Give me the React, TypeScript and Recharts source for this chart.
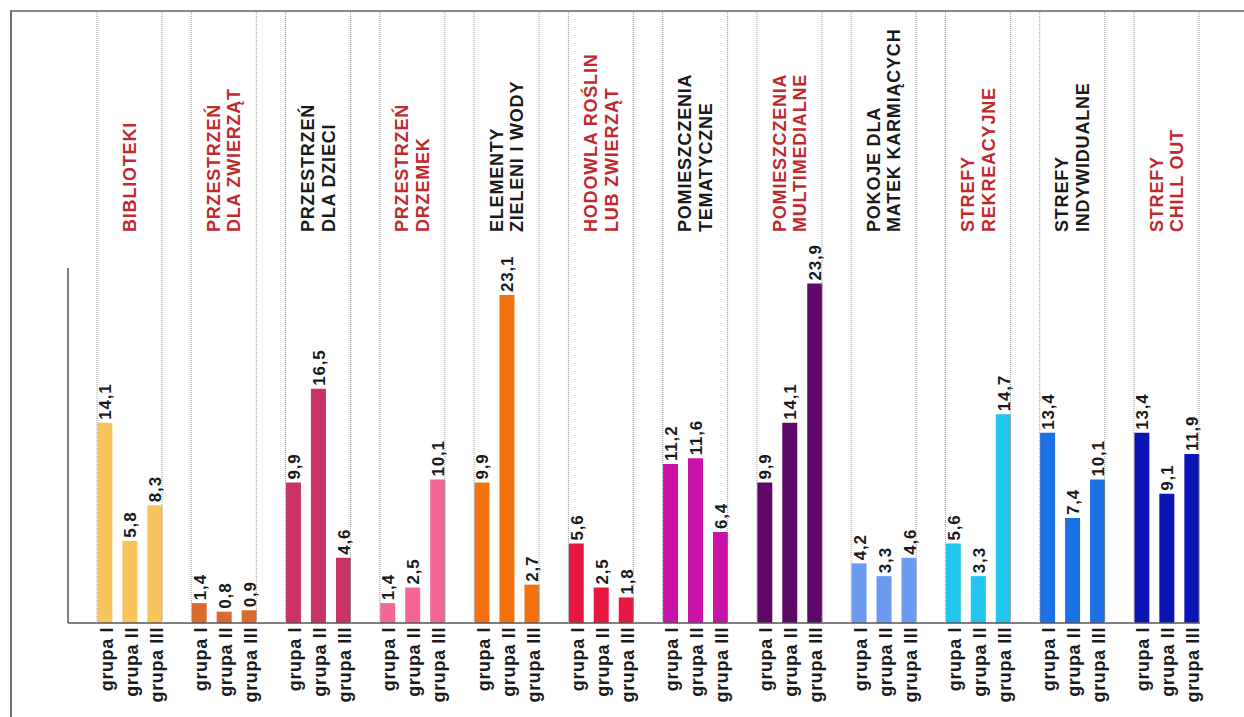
import React from "react";
import { Bar, BarChart, Cell, LabelList, XAxis, YAxis } from "recharts";

const categories = [
  "BIBLIOTEKI",
  "PRZESTRZEŃ\nDLA ZWIERZĄT",
  "PRZESTRZEŃ\nDLA DZIECI",
  "PRZESTRZEŃ\nDRZEMEK",
  "ELEMENTY\nZIELENI I WODY",
  "HODOWLA ROŚLIN\nLUB ZWIERZĄT",
  "POMIESZCZENIA\nTEMATYCZNE",
  "POMIESZCZENIA\nMULTIMEDIALNE",
  "POKOJE DLA\nMATEK KARMIĄCYCH",
  "STREFY\nREKREACYJNE",
  "STREFY\nINDYWIDUALNE",
  "STREFY\nCHILL OUT",
];

const grupa1 = [14.1, 1.4, 9.9, 1.4, 9.9, 5.6, 11.2, 9.9, 4.2, 5.6, 13.4, 13.4];
const grupa2 = [5.8, 0.8, 16.5, 2.5, 23.1, 2.5, 11.6, 14.1, 3.3, 3.3, 7.4, 9.1];
const grupa3 = [8.3, 0.9, 4.6, 10.1, 2.7, 1.8, 6.4, 23.9, 4.6, 14.7, 10.1, 11.9];

const groupLabels = ["grupa I", "grupa II", "grupa III"];

const barColors = [
  "#F8C45C",
  "#D96A30",
  "#C93262",
  "#F26698",
  "#F4720E",
  "#E8173F",
  "#C913A6",
  "#5E0868",
  "#6A9BF0",
  "#22C5EE",
  "#1B70E6",
  "#0B14B5",
];

// true = red title, false = black title
const redTitle = [true, true, false, true, false, true, false, true, false, true, false, true];

const data = categories.map((name, i) => ({
  name,
  g1: grupa1[i],
  g2: grupa2[i],
  g3: grupa3[i],
}));

const FONT = "'Liberation Sans', Arial, sans-serif";
const TOP_Y = 12;
const BASE_Y = 623;
const BAR_STEP = 25;
const HALF_GROUP = 32.5;

const fmt = (v: number) => v.toFixed(1).replace(".", ",");

function TitleTick(props: any) {
  const { x, payload, index } = props;
  const lines = String(payload.value).split("\n");
  const color = redTitle[index] ? "#C02A2E" : "#1a1a1a";
  return (
    <g>
      <line x1={x - HALF_GROUP} x2={x - HALF_GROUP} y1={TOP_Y} y2={BASE_Y} stroke="#9a9a9a" strokeDasharray="1 1" />
      <line x1={x + HALF_GROUP} x2={x + HALF_GROUP} y1={TOP_Y} y2={BASE_Y} stroke="#9a9a9a" strokeDasharray="1 1" />
      {lines.map((line, i) => {
        const cx = x + (i - (lines.length - 1) / 2) * 20.5 + 6.4;
        return (
          <text
            key={i}
            x={cx}
            y={232}
            transform={`rotate(-90 ${cx} 232)`}
            textAnchor="start"
            fill={color}
            fontFamily={FONT}
            fontWeight={700}
            fontSize={18}
            letterSpacing={0.8}
          >
            {line}
          </text>
        );
      })}
    </g>
  );
}

function GroupTick(props: any) {
  const { x } = props;
  return (
    <g>
      {groupLabels.map((label, j) => {
        const px = x + (j - 1) * BAR_STEP + 8;
        const py = 627;
        return (
          <text
            key={j}
            x={px}
            y={py}
            transform={`rotate(-90 ${px} ${py})`}
            textAnchor="end"
            fill="#1a1a1a"
            fontFamily={FONT}
            fontWeight={700}
            fontSize={18}
            letterSpacing={0.6}
          >
            {label}
          </text>
        );
      })}
    </g>
  );
}

function ValueLabel(props: any) {
  const { x, y, width, value } = props;
  const px = Number(x) + Number(width) / 2 + 6.5;
  const py = Number(y) - 3;
  return (
    <text
      x={px}
      y={py}
      transform={`rotate(-90 ${px} ${py})`}
      textAnchor="start"
      fill="#1a1a1a"
      fontFamily={FONT}
      fontWeight={700}
      fontSize={17}
      letterSpacing={0.8}
    >
      {fmt(Number(value))}
    </text>
  );
}

const seriesKeys = ["g1", "g2", "g3"];

export default function App() {
  return (
    <div style={{ position: "absolute", left: 0, top: 0, width: 1244, height: 717, background: "#fff" }}>
      <div
        style={{
          position: "absolute",
          left: 10,
          top: 10,
          width: 1234,
          height: 707,
          borderTop: "2px solid #8a8a8a",
          borderLeft: "2px solid #6f6f6f",
          boxSizing: "border-box",
        }}
      />
      <div style={{ position: "absolute", left: 0, top: 0 }}>
        <BarChart
          width={1244}
          height={717}
          data={data}
          margin={{ top: 12, right: 44, left: 58, bottom: 0 }}
          barSize={15}
          barGap={10}
        >
          <XAxis
            xAxisId="top"
            orientation="top"
            dataKey="name"
            height={256}
            axisLine={false}
            tickLine={false}
            interval={0}
            padding={{ left: 14.4, right: -13.6 }}
            tick={<TitleTick />}
          />
          <XAxis
            dataKey="name"
            height={94}
            axisLine={{ stroke: "#555", strokeWidth: 1.5 }}
            tickLine={false}
            interval={0}
            padding={{ left: 14.4, right: -13.6 }}
            tick={<GroupTick />}
          />
          <YAxis
            domain={[0, 25]}
            width={10}
            tick={false}
            tickLine={false}
            axisLine={{ stroke: "#555", strokeWidth: 1.5 }}
          />
          {seriesKeys.map((key, s) => (
            <Bar key={key} dataKey={key} name={groupLabels[s]} isAnimationActive={false}>
              {data.map((_, i) => (
                <Cell key={i} fill={barColors[i]} />
              ))}
              <LabelList dataKey={key} content={<ValueLabel />} />
            </Bar>
          ))}
        </BarChart>
      </div>
    </div>
  );
}
